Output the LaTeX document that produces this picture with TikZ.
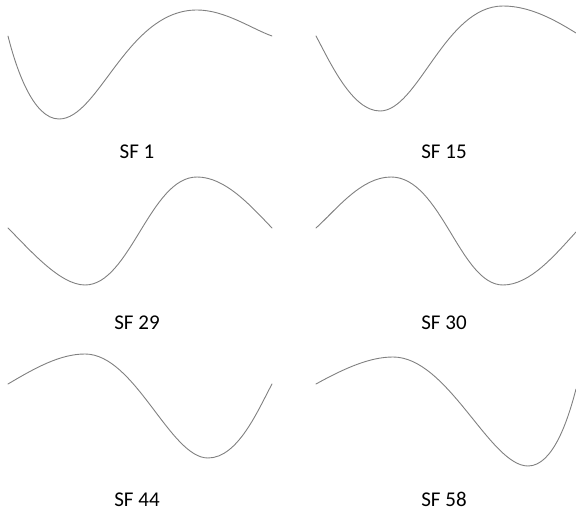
\documentclass[tikz,border=0pt]{standalone}
\usepackage{fontspec}
\setmainfont{Carlito}
\usepackage{tikz}
\usetikzlibrary{positioning}
\definecolor{wave}{RGB}{128,128,128}
\tikzset{
  curve/.style={draw=wave, line width=0.9pt, line cap=round},
  lbl/.style={font=\fontsize{21}{23}\selectfont, inner sep=0pt, anchor=base},
}

\begin{document}
\begin{tikzpicture}[x=1pt, y=1pt]
  \useasboundingbox (0,0) rectangle (576,-513);
  % top row
  \draw[curve] (8,-36) .. controls (16,-68) and (33,-119) .. (59,-119)
        .. controls (99,-119) and (127,-10) .. (197,-10)
        .. controls (225,-10) and (252,-29) .. (272,-36);
  \draw[curve] (316,-36) .. controls (330,-62) and (352,-111) .. (380,-111)
        .. controls (418,-111) and (445,-6) .. (503,-6)
        .. controls (530,-6) and (555,-20) .. (576,-33);
  \node[lbl] (sf1) at (137,-159) {SF 1};
  \node[lbl] (sf15) at (444,-159) {SF 15};
  % middle row
  \draw[curve] (8,-228) .. controls (30,-250) and (60,-285) .. (85,-285)
        .. controls (130,-285) and (150,-177) .. (197,-177)
        .. controls (225,-177) and (250,-205) .. (272,-228);
  \draw[curve] (316,-228) .. controls (336,-210) and (361,-177) .. (391,-177)
        .. controls (441,-177) and (460,-285) .. (503,-285)
        .. controls (530,-285) and (555,-255) .. (576,-232);
  \node[lbl] (sf29) at (137,-330) {SF 29};
  \node[lbl] (sf30) at (444,-330) {SF 30};
  % bottom row
  \draw[curve] (8,-384) .. controls (35,-368) and (60,-354) .. (85,-354)
        .. controls (135,-354) and (170,-458) .. (208,-458)
        .. controls (238,-458) and (258,-410) .. (272,-384);
  \draw[curve] (316,-384) .. controls (345,-368) and (370,-357) .. (393,-357)
        .. controls (448,-357) and (490,-466) .. (528,-466)
        .. controls (553,-466) and (568,-420) .. (576,-389);
  \node[lbl] (sf44) at (137,-506) {SF 44};
  \node[lbl] (sf58) at (444,-506) {SF 58};
\end{tikzpicture}
\end{document}
